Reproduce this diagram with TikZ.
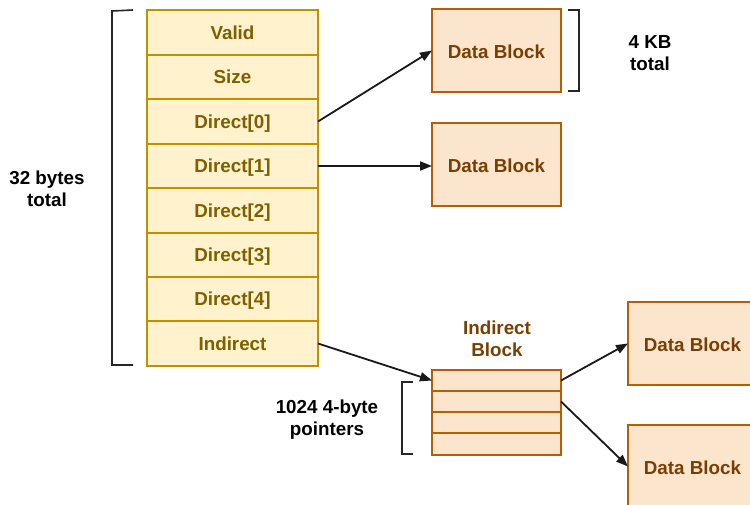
\documentclass[tikz,border=0pt]{standalone}
\usepackage{fontspec}
\setmainfont{Liberation Sans}
\usetikzlibrary{arrows.meta}
\definecolor{inodefill}{HTML}{FFF2CC}
\definecolor{inodeline}{HTML}{BF9000}
\definecolor{inodetext}{HTML}{7F6000}
\definecolor{blockfill}{HTML}{FCE5CD}
\definecolor{blockline}{HTML}{B45F06}
\definecolor{blocktext}{HTML}{783F04}
\tikzset{
  lbl/.style={font=\fontsize{18.8}{22}\selectfont\bfseries, align=center, inner sep=0pt},
  field/.style={fill=inodefill, minimum width=171pt, text height=13.5pt, text depth=0pt,
    inner sep=0pt, outer sep=0pt, anchor=north west, text=inodetext, font=\fontsize{18.8}{22}\selectfont\bfseries},
  fieldline/.style={draw=inodeline, line width=1.6pt},
  datablock/.style={draw=blockline, fill=blockfill, line width=1.6pt, minimum width=129pt, minimum height=83pt,
    text height=16.5pt, text depth=0pt,
    inner sep=0pt, outer sep=0pt, anchor=north west, text=blocktext, font=\fontsize{18.8}{22}\selectfont\bfseries},
  ptr/.style={fill=blockfill, minimum width=129pt,
    inner sep=0pt, outer sep=0pt, anchor=north west},
  ptrline/.style={draw=blockline, line width=1.6pt},
  link/.style={line width=1.8pt, black!90, -{Triangle[length=12pt,width=9pt]}},
  bracket/.style={line width=1.6pt, black!85}
}
\begin{document}
\begin{tikzpicture}[x=1pt,y=-1pt]
\clip (0,0) rectangle (750,505);
\useasboundingbox (0,0) rectangle (750,505);
% inode fields
\node[field, minimum height=45pt] (valid) at (147,10) {Valid};
\node[field, minimum height=44pt] (size) at (147,55) {Size};
\node[field, minimum height=45pt] (d0) at (147,99) {Direct[0]};
\node[field, minimum height=44pt] (d1) at (147,144) {Direct[1]};
\node[field, minimum height=45pt] (d2) at (147,188) {Direct[2]};
\node[field, minimum height=44pt] (d3) at (147,233) {Direct[3]};
\node[field, minimum height=44pt] (d4) at (147,277) {Direct[4]};
\node[field, minimum height=45pt] (ind) at (147,321) {Indirect};
\draw[fieldline] (valid.north west) rectangle (ind.south east);
\foreach \r in {size,d0,d1,d2,d3,d4,ind}
  \draw[fieldline] (\r.north west) -- (\r.north east);
% left bracket
\draw[bracket] (133,10) -- (112,11) -- (112,365) -- (133,365);
\node[lbl] (l32) at (47,189) {32 bytes\\total};
% data blocks
\node[datablock] (db1) at (432,9) {Data Block};
\node[datablock] (db2) at (432,123) {Data Block};
\node[datablock] (db3) at (628,302) {Data Block};
\node[datablock] (db4) at (628,425) {Data Block};
% 4KB bracket
\draw[bracket] (568,10) -- (579,10) -- (579,91) -- (568,91);
\node[lbl] (l4kb) at (650,53) {4 KB\\total};
% indirect block
\node[lbl, text=blocktext] (indlbl) at (497,339) {Indirect\\Block};
\node[ptr, minimum height=21pt] (p1) at (432,370) {};
\node[ptr, minimum height=21pt] (p2) at (432,391) {};
\node[ptr, minimum height=21pt] (p3) at (432,412) {};
\node[ptr, minimum height=22pt] (p4) at (432,433) {};
\draw[ptrline] (p1.north west) rectangle (p4.south east);
\foreach \r in {p2,p3,p4}
  \draw[ptrline] (\r.north west) -- (\r.north east);
% pointer bracket
\draw[bracket] (413,382) -- (402,382) -- (402,454) -- (413,454);
\node[lbl] (l1024) at (327,420) {1024 4-byte\\pointers};
% connectors
\draw[link] (d0.east) -- (db1.west);
\draw[link] (d1.east) -- (db2.west |- d1.east);
\draw[link] (ind.east) -- (p1.west);
\draw[link] (p1.east) -- (db3.west);
\draw[link] (p2.east) -- (db4.west);
\end{tikzpicture}
\end{document}
